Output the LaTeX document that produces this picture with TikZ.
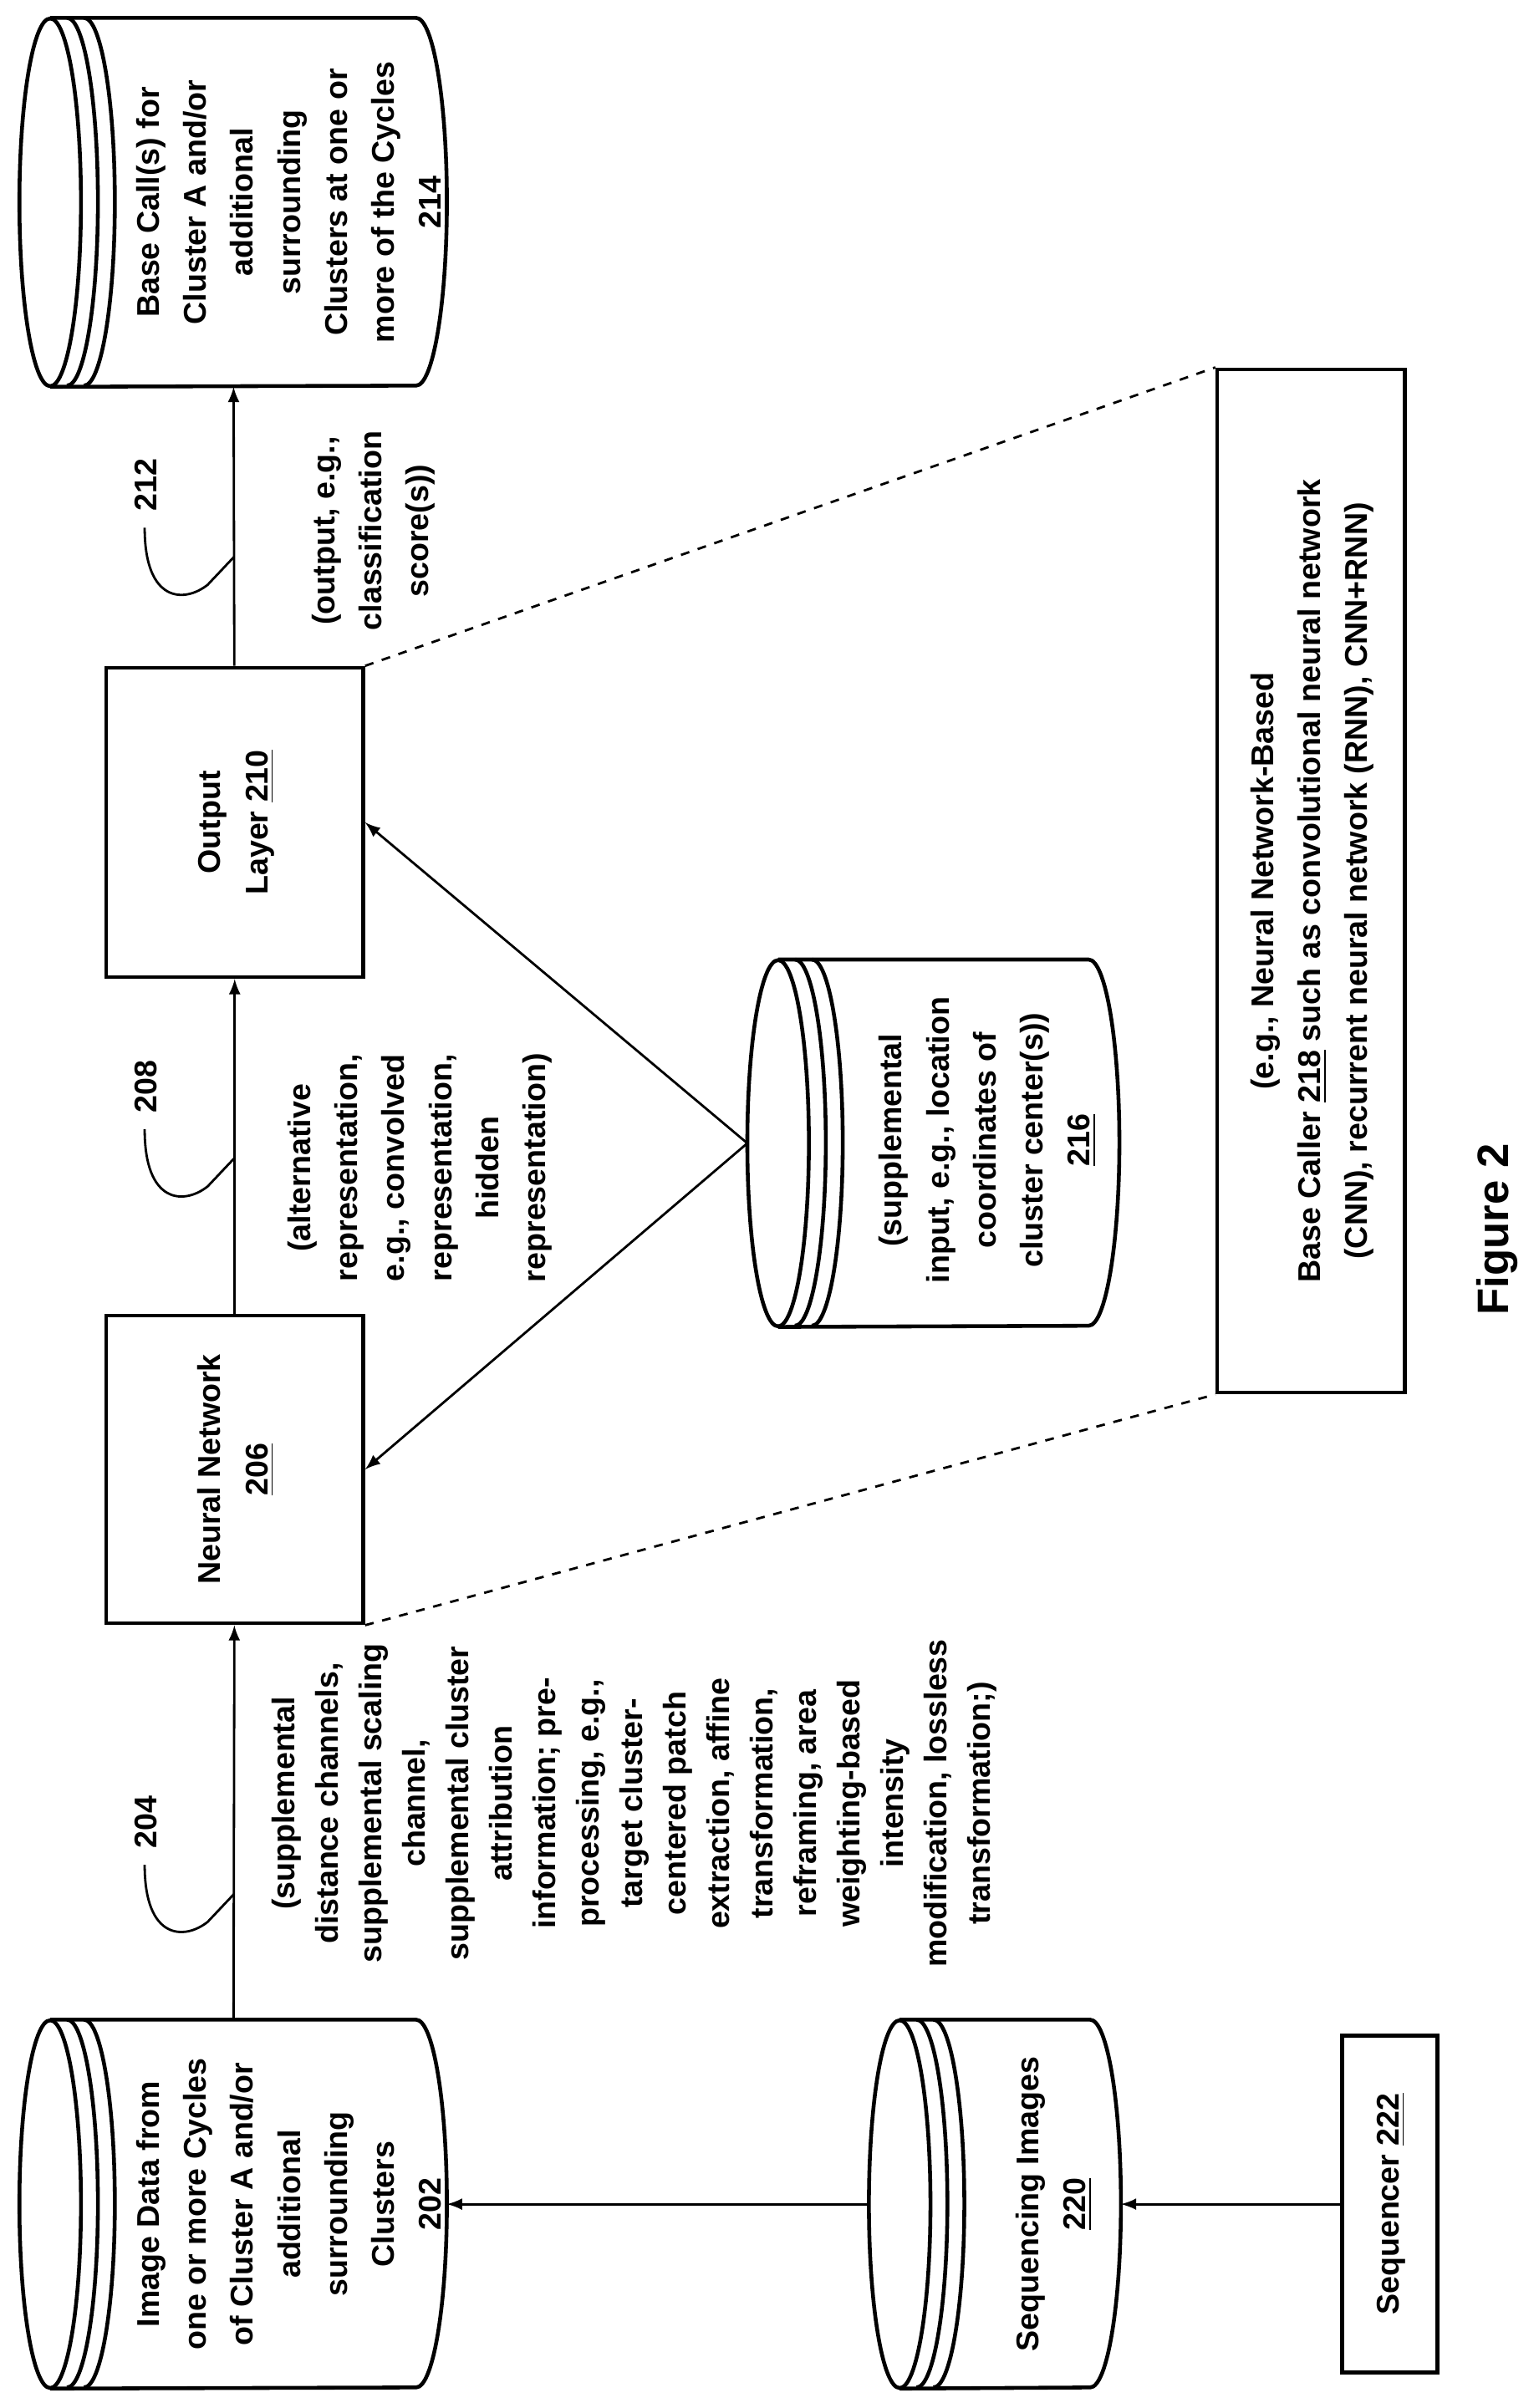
\documentclass[tikz,border=0pt]{standalone}
\usepackage{fontspec}
\setmainfont{Liberation Sans}
\usepackage{graphicx}
\usetikzlibrary{arrows,positioning}

\def\px{0.01841cm}
% rotated multi-line label
\newcommand{\up}[2][16]{\rotatebox{90}{\fontsize{10.7}{#1}\selectfont\bfseries\begin{tabular}{@{}c@{}}#2\end{tabular}}}
% drum outline around a named node: name, cap radius, half height
\newcommand{\drum}[3]{%
  \draw[body] ([xshift=#2]#1.north west) -- ([xshift=-#2]#1.north east)
    arc[start angle=90, end angle=-90, x radius=#2, y radius=#3] -- ([xshift=#2]#1.south west);
  \draw[body] ([xshift=#2]#1.west) ellipse [x radius=#2, y radius=#3];
  \foreach \d in {11,22}
    \draw[body] ([xshift=#2+\d*\px]#1.north west) arc[start angle=90, end angle=-90, x radius=#2, y radius=#3];
}
% leader hook for a reference numeral, from a point on an arrow
\newcommand{\hook}[2]{%
  \node (#1) at (96,#2-47) {\up{#1}};
  \draw[hook] (152,#2) -- (135,#2+18) .. controls (120,#2+30) and (94,#2+30) .. (94,#2-19);
}

\begin{document}
\begin{tikzpicture}[x=\px, y=-\px, >=latex,
    body/.style={line width=1.3pt},
    box/.style={rectangle, draw, line width=1.3pt, inner sep=0pt},
    hole/.style={rectangle, inner sep=0pt},
    link/.style={->, line width=0.8pt},
    zoomline/.style={dashed, line width=0.8pt},
    hook/.style={line width=0.8pt}]
  \useasboundingbox (0,0) rectangle (1000,1565);

  % drums
  \node[hole, minimum width=277*\px, minimum height=239*\px] (calls) at (151.5,131.5) {};
  \drum{calls}{20*\px}{119.5*\px}
  \node at (189,131.5) {\up{Base Call(s) for\\Cluster A and/or\\additional\\surrounding\\Clusters at one or\\more of the Cycles\\\underline{214}}};

  \node[hole, minimum width=277*\px, minimum height=239*\px] (img) at (151.5,1432.5) {};
  \drum{img}{20*\px}{119.5*\px}
  \node at (189,1432.5) {\up{Image Data from\\one or more Cycles\\of Cluster A and/or\\additional\\surrounding\\Clusters\\\underline{202}}};

  \node[hole, minimum width=163*\px, minimum height=239*\px] (seqimg) at (646.5,1432.5) {};
  \drum{seqimg}{20*\px}{119.5*\px}
  \node at (684,1432.5) {\up{Sequencing Images\\\underline{220}}};

  \node[hole, minimum width=241*\px, minimum height=238*\px] (supp) at (606.5,743) {};
  \drum{supp}{20*\px}{119*\px}
  \node at (641,741) {\up{(supplemental\\input, e.g., location\\coordinates of\\cluster center(s))\\\underline{216}}};

  % boxes
  \node[box, minimum width=167*\px, minimum height=201*\px] (out) at (152.5,534.5) {\up{Output\\Layer \underline{210}}};
  \node[box, minimum width=167*\px, minimum height=200*\px] (nn) at (152.5,955) {\up{Neural Network\\\underline{206}}};
  \node[box, minimum width=62*\px, minimum height=219*\px] (seq) at (903,1432.5) {\up{Sequencer \underline{222}}};
  \node[box, minimum width=122*\px, minimum height=665*\px] (caller) at (852,572.5)
    {\up{(e.g., Neural Network-Based\\Base Caller \underline{218} such as convolutional neural network\\(CNN), recurrent neural network (RNN), CNN+RNN)}};

  % arrows
  \draw[link] (out) -- (calls);
  \draw[link] (nn) -- (out);
  \draw[link] (img) -- (nn);
  \draw[link] (seqimg.west |- seq) -- (img.east |- seq);
  \draw[link] (seq.west) -- (seq.west -| seqimg.east);
  \draw[link] (supp.west) -- (out.east);
  \draw[link] (supp.west) -- (nn.east);
  \draw[zoomline] (out.north east) -- (caller.north west);
  \draw[zoomline] (nn.south east) -- (caller.south west);

  % arrow texts
  \node (t212) at (242,345) {\up{(output, e.g.,\\classification\\score(s))}};
  \node (t208) at (272,759) {\up{(alternative\\representation,\\e.g., convolved\\representation,\\hidden\\representation)}};
  \node (t204) at (412,1172) {\up[14.8]{(supplemental\\distance channels,\\supplemental scaling\\channel,\\supplemental cluster\\attribution\\information; pre-\\processing, e.g.,\\target cluster-\\centered patch\\extraction, affine\\transformation,\\reframing, area\\weighting-based\\intensity\\modification, lossless\\transformation;)}};

  % reference numerals
  \hook{212}{362}
  \hook{208}{753}
  \hook{204}{1231}

  \node (fig) at (973,799) {\rotatebox{90}{\fontsize{15}{18}\selectfont\bfseries Figure 2}};
\end{tikzpicture}
\end{document}
